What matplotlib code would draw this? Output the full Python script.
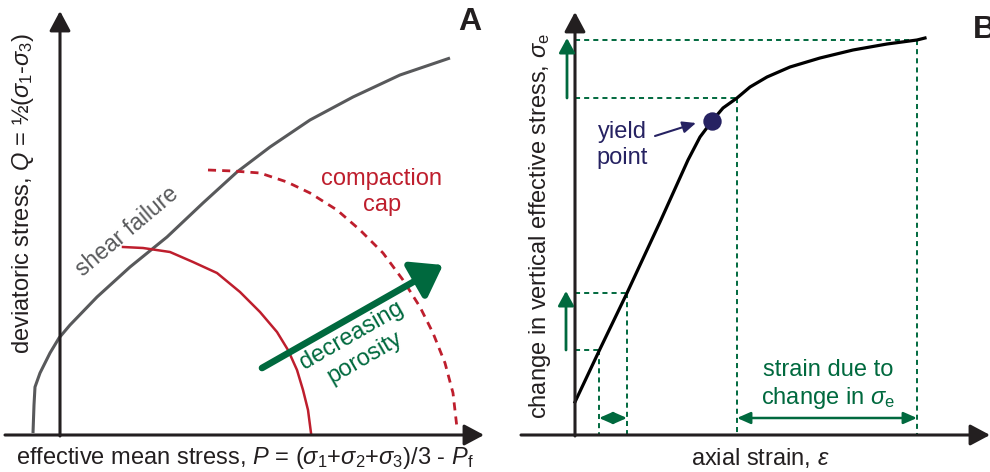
import matplotlib

matplotlib.use("Agg")
import matplotlib.pyplot as plt

plt.rcParams.update({
    "font.family": ["Liberation Sans", "DejaVu Sans"],
    "mathtext.fontset": "custom",
    "mathtext.rm": "Liberation Sans",
    "mathtext.it": "Liberation Sans:italic",
    "mathtext.bf": "Liberation Sans:bold",
})

GRAY = "#58595b"
RED = "#be1e2d"
GREEN = "#00693e"
NAVY = "#262262"
BLACK = "#231f20"

# all positions in figure-pixel units (x right, y down)
# panel A
A_ORIGIN = (60, 435)
A_XAXIS = (5, 484)
A_YTOP = 11
SHEAR_X = [33, 34, 35, 40, 50, 59, 70, 97, 130, 167, 203, 237, 270, 310, 353, 400, 450]
SHEAR_Y = [433, 405, 387, 373, 353, 338, 325, 297, 267, 237, 203, 172, 147, 120, 97, 75, 58]
CAP_X = [123, 143, 170, 193, 217, 240, 260, 277, 288, 297, 303, 308, 311]
CAP_Y = [247, 248, 252, 262, 273, 292, 312, 332, 350, 370, 390, 410, 433]
CAP2_X = [208, 233, 260, 287, 310, 337, 360, 383, 403, 420, 433, 445, 453, 457]
CAP2_Y = [170, 171, 173, 182, 193, 210, 230, 253, 280, 307, 333, 363, 393, 428]
POROSITY_ARROW = [(262, 368), (443, 265)]

# panel B
B_ORIGIN = (575, 435)
B_XAXIS = (521, 990)
B_YTOP = 12
STRAIN = [575, 600, 627, 660, 688, 700, 712, 723, 737, 750, 767, 790, 820, 853,
          887, 917, 925]
STRESS = [402, 349, 293, 222, 160, 137, 121, 108, 98, 87, 77, 67, 58, 50,
          44, 40, 38]
GUIDE_X = [599, 627, 737, 917]
GUIDE_Y = [350, 293, 98, 40]
YIELD = (712, 121)

fig = plt.figure(figsize=(9.9, 4.72), dpi=100)
ax = fig.add_axes([0, 0, 1, 1])
ax.set_xlim(0, 990)
ax.set_ylim(472, 0)
ax.axis("off")


def axis_arrow(x0, y0, x1, y1, color=BLACK, lw=2.2, hl=0.6, hw=0.32, ms=20):
    ax.annotate("", xy=(x1, y1), xytext=(x0, y0),
                arrowprops=dict(arrowstyle=f"-|>,head_length={hl},head_width={hw}",
                                color=color, lw=lw, shrinkA=0, shrinkB=0,
                                mutation_scale=ms))


def double_arrow(x0, x1, y, color=GREEN):
    ax.annotate("", xy=(x1, y), xytext=(x0, y),
                arrowprops=dict(arrowstyle="<|-|>,head_length=0.5,head_width=0.22",
                                color=color, lw=1.8, shrinkA=0, shrinkB=0,
                                mutation_scale=16))


# ---------------------------------------------------------------- panel A
ax.plot(SHEAR_X, SHEAR_Y, color=GRAY, lw=2.2, solid_capstyle="butt",
        solid_joinstyle="round")
ax.plot(CAP_X, CAP_Y, color=RED, lw=1.8, solid_joinstyle="round")
ax.plot(CAP2_X, CAP2_Y, color=RED, lw=2.0, dashes=(2.9, 2.2))

axis_arrow(A_ORIGIN[0], A_ORIGIN[1] + 1, A_ORIGIN[0], A_YTOP)
axis_arrow(A_XAXIS[0], A_ORIGIN[1], A_XAXIS[1], A_ORIGIN[1])

(px0, py0), (px1, py1) = POROSITY_ARROW
axis_arrow(px0, py0, px1, py1, color=GREEN, lw=4.8, hl=0.6, hw=0.42, ms=30)

ax.text(127, 231, "shear failure", color=GRAY, fontsize=16.5, rotation=40,
        ha="center", va="center", rotation_mode="anchor")
ax.text(382, 192, "compaction\ncap", color=RED, fontsize=17, ha="center",
        va="center", linespacing=1.2)
ax.text(358, 347, "decreasing\nporosity", color=GREEN, fontsize=17, rotation=30,
        ha="center", va="center", rotation_mode="anchor", linespacing=1.2)
ax.text(470, 22, "A", fontsize=23, fontweight="bold", ha="center", va="center",
        color=BLACK)
ax.text(23, 193, r"deviatoric stress, $Q$ = ½($\sigma_1$-$\sigma_3$)", fontsize=17,
        rotation=90, ha="center", va="center", color=BLACK)
ax.text(245, 458,
        r"effective mean stress, $P$ = ($\sigma_1$+$\sigma_2$+$\sigma_3$)/3 - $P_\mathrm{f}$",
        fontsize=17, ha="center", va="center", color=BLACK)

# ---------------------------------------------------------------- panel B
for gx, gy in zip(GUIDE_X, GUIDE_Y):
    ax.plot([B_ORIGIN[0], gx], [gy, gy], color=GREEN, lw=1.4, dashes=(2.6, 2.1))
    ax.plot([gx, gx], [gy, B_ORIGIN[1]], color=GREEN, lw=1.4, dashes=(2.6, 2.1))

ax.plot(STRAIN, STRESS, color="black", lw=2.3, zorder=3, solid_joinstyle="round")

axis_arrow(B_ORIGIN[0], B_ORIGIN[1] + 1, B_ORIGIN[0], B_YTOP)
axis_arrow(B_XAXIS[0], B_ORIGIN[1], B_XAXIS[1], B_ORIGIN[1])

# stress-step arrows beside the axis
axis_arrow(567, GUIDE_Y[2], 567, GUIDE_Y[3] - 2, color=GREEN, lw=2.0, hl=0.55,
           hw=0.3, ms=16)
axis_arrow(566, GUIDE_Y[0], 566, GUIDE_Y[1] - 2, color=GREEN, lw=2.0, hl=0.55,
           hw=0.3, ms=16)
double_arrow(GUIDE_X[0], GUIDE_X[1], 418)
double_arrow(GUIDE_X[2], GUIDE_X[3], 418)

ax.scatter([YIELD[0]], [YIELD[1]], s=175, color=NAVY, zorder=4, linewidths=0)
ax.annotate("", xy=(696, 123), xytext=(655, 136),
            arrowprops=dict(arrowstyle="-|>,head_length=0.5,head_width=0.22",
                            color=NAVY, lw=1.5, shrinkA=0, shrinkB=0,
                            mutation_scale=16))
ax.text(622, 145, "yield\npoint", color=NAVY, fontsize=17, ha="center",
        va="center", linespacing=1.2)

ax.text(828, 385, "strain due to\n" + r"change in $\sigma_\mathrm{e}$", color=GREEN,
        fontsize=17, ha="center", va="center", linespacing=1.2)
ax.text(973, 30, "B", fontsize=23, fontweight="bold", ha="left", va="center",
        color=BLACK)
ax.text(540, 226, r"change in vertical effective stress, $\sigma_\mathrm{e}$",
        fontsize=17, rotation=90, ha="center", va="center", color=BLACK)
ax.text(760, 458, r"axial strain, $\varepsilon$", fontsize=17, ha="center",
        va="center", color=BLACK)

fig.savefig("out.png", dpi=100)
